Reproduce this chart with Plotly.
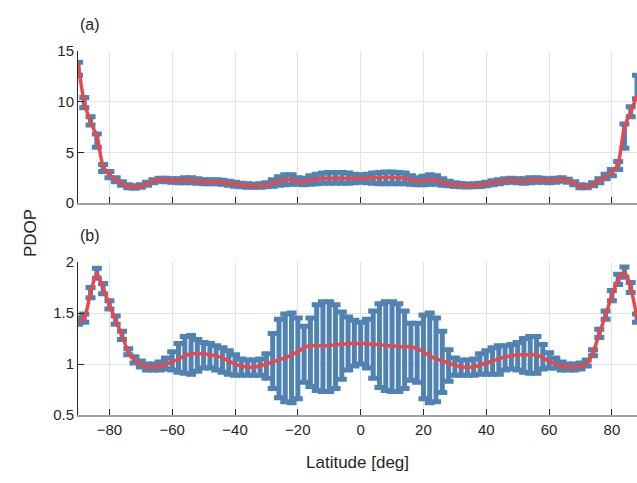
import plotly.graph_objects as go

# Latitude grid (deg)
lat = list(range(-90, 90, 2))

# Panel (a): mean PDOP, upper and lower bounds
a_mean = [13.8, 9.9, 8.0, 6.6, 3.6, 2.8, 2.3, 1.9, 1.65, 1.58,
          1.65, 1.9, 2.15, 2.3, 2.3, 2.22, 2.2, 2.25, 2.25, 2.15,
          2.1, 2.1, 2.1, 2.05, 1.95, 1.85, 1.75, 1.72, 1.7, 1.72,
          1.8, 1.95, 2.15, 2.3, 2.3, 2.15, 2.1, 2.25, 2.35, 2.4,
          2.45, 2.45, 2.45, 2.45, 2.45, 2.45, 2.45, 2.48, 2.5, 2.52,
          2.52, 2.5, 2.45, 2.3, 2.15, 2.2, 2.3, 2.25, 2.05, 1.9,
          1.8, 1.75, 1.72, 1.74, 1.78, 1.88, 2.0, 2.1, 2.2, 2.25,
          2.2, 2.15, 2.25, 2.3, 2.25, 2.2, 2.25, 2.32, 2.2, 1.95,
          1.65, 1.6, 1.85, 2.2, 2.6, 3.0, 3.9, 7.5, 9.0, 10.6]
a_upper = [13.9, 10.4, 8.5, 6.8, 3.8, 3.1, 2.5, 2.1, 1.8, 1.7,
           1.8, 2.05, 2.3, 2.45, 2.45, 2.4, 2.4, 2.5, 2.5, 2.4,
           2.3, 2.3, 2.3, 2.25, 2.15, 2.05, 1.95, 1.9, 1.85, 1.9,
           2.0, 2.3, 2.6, 2.8, 2.8, 2.5, 2.45, 2.7, 2.85, 2.95,
           3.0, 3.0, 3.0, 2.95, 2.85, 2.8, 2.85, 2.95, 3.0, 3.05,
           3.05, 3.0, 2.95, 2.7, 2.5, 2.65, 2.8, 2.7, 2.4, 2.15,
           2.0, 1.92, 1.88, 1.9, 1.95, 2.05, 2.2, 2.3, 2.4, 2.45,
           2.4, 2.4, 2.5, 2.5, 2.45, 2.4, 2.45, 2.5, 2.35, 2.1,
           1.8, 1.75, 2.0, 2.4, 2.85, 3.3, 4.1, 7.8, 9.5, 12.6]
a_lower = [12.6, 9.4, 7.7, 5.5, 3.1, 2.5, 2.1, 1.75, 1.5, 1.45,
           1.55, 1.75, 2.0, 2.15, 2.1, 2.05, 2.0, 2.0, 2.0, 1.95,
           1.9, 1.9, 1.9, 1.85, 1.75, 1.65, 1.6, 1.55, 1.55, 1.55,
           1.6, 1.65, 1.75, 1.8, 1.85, 1.85, 1.8, 1.85, 1.9, 1.95,
           1.95, 1.95, 1.95, 1.95, 2.0, 2.05, 2.0, 1.95, 1.9, 1.9,
           1.9, 1.9, 1.9, 1.85, 1.8, 1.8, 1.85, 1.85, 1.75, 1.7,
           1.62, 1.6, 1.58, 1.6, 1.62, 1.7, 1.8, 1.9, 2.0, 2.05,
           2.0, 1.95, 2.0, 2.05, 2.05, 2.0, 2.05, 2.15, 2.05, 1.8,
           1.5, 1.5, 1.7, 2.0, 2.4, 2.7, 3.3, 5.4, 8.5, 10.3]

# Panel (b): mean PDOP, upper and lower bounds
b_mean = [1.42, 1.45, 1.70, 1.89, 1.74, 1.58, 1.43, 1.28, 1.12, 1.04,
          1.00, 0.97, 0.97, 0.98, 1.00, 1.02, 1.05, 1.08, 1.10, 1.10,
          1.10, 1.09, 1.08, 1.06, 1.03, 1.00, 0.98, 0.97, 0.97, 0.98,
          1.00, 1.02, 1.04, 1.06, 1.09, 1.12, 1.16, 1.18, 1.18, 1.18,
          1.18, 1.19, 1.19, 1.20, 1.20, 1.20, 1.20, 1.19, 1.19, 1.18,
          1.18, 1.17, 1.17, 1.17, 1.15, 1.12, 1.08, 1.05, 1.03, 1.01,
          0.99, 0.97, 0.97, 0.97, 0.99, 1.01, 1.03, 1.05, 1.07, 1.08,
          1.09, 1.09, 1.09, 1.09, 1.06, 1.03, 1.00, 0.98, 0.97, 0.97,
          0.98, 1.01, 1.11, 1.30, 1.48, 1.67, 1.83, 1.90, 1.75, 1.45]
b_upper = [1.45, 1.49, 1.75, 1.94, 1.79, 1.62, 1.47, 1.32, 1.15, 1.07,
           1.03, 1.00, 1.00, 1.02, 1.06, 1.12, 1.20, 1.27, 1.28, 1.24,
           1.21, 1.20, 1.18, 1.16, 1.13, 1.09, 1.05, 1.04, 1.04, 1.05,
           1.10, 1.30, 1.44, 1.49, 1.50, 1.45, 1.37, 1.45, 1.58, 1.61,
           1.61, 1.58, 1.51, 1.46, 1.43, 1.41, 1.44, 1.52, 1.59, 1.61,
           1.61, 1.59, 1.52, 1.40, 1.40, 1.48, 1.50, 1.45, 1.32, 1.14,
           1.06, 1.04, 1.04, 1.05, 1.10, 1.13, 1.16, 1.18, 1.18, 1.19,
           1.21, 1.25, 1.27, 1.27, 1.19, 1.11, 1.06, 1.02, 1.00, 1.00,
           1.01, 1.04, 1.14, 1.34, 1.52, 1.72, 1.88, 1.95, 1.80, 1.49]
b_lower = [1.39, 1.41, 1.65, 1.84, 1.69, 1.54, 1.39, 1.24, 1.09, 1.01,
           0.97, 0.94, 0.94, 0.94, 0.95, 0.94, 0.92, 0.91, 0.90, 0.93,
           0.96, 0.96, 0.94, 0.92, 0.90, 0.89, 0.89, 0.89, 0.89, 0.89,
           0.86, 0.76, 0.67, 0.63, 0.62, 0.66, 0.82, 0.78, 0.74, 0.73,
           0.73, 0.76, 0.85, 0.94, 0.98, 1.00, 0.96, 0.86, 0.77, 0.74,
           0.73, 0.73, 0.76, 0.84, 0.82, 0.66, 0.62, 0.63, 0.72, 0.83,
           0.89, 0.89, 0.89, 0.89, 0.90, 0.90, 0.90, 0.90, 0.94, 0.95,
           0.94, 0.92, 0.91, 0.91, 0.95, 0.96, 0.96, 0.94, 0.94, 0.94,
           0.95, 0.98, 1.08, 1.26, 1.44, 1.62, 1.78, 1.85, 1.70, 1.41]

x_ticks = [-80, -60, -40, -20, 0, 20, 40, 60, 80]

BLUE = "#5083b1"
RED = "#e8474c"
FONT = "Liberation Sans"


def eb(mean, up, lo, xa, ya):
    return go.Scatter(
        x=lat, y=mean, xaxis=xa, yaxis=ya, mode="markers",
        marker=dict(size=1, color="rgba(0,0,0,0)"),
        error_y=dict(type="data", symmetric=False,
                     array=[u - m for u, m in zip(up, mean)],
                     arrayminus=[m - l for m, l in zip(mean, lo)],
                     color=BLUE, thickness=5, width=5),
        showlegend=False, hoverinfo="skip")


def ln(mean, xa, ya):
    return go.Scatter(x=lat, y=mean, xaxis=xa, yaxis=ya, mode="lines",
                      line=dict(color=RED, width=3.5, shape="spline", smoothing=0.6),
                      showlegend=False)


fig = go.Figure([
    eb(a_mean, a_upper, a_lower, "x", "y"), ln(a_mean, "x", "y"),
    eb(b_mean, b_upper, b_lower, "x2", "y2"), ln(b_mean, "x2", "y2"),
])

axis_common = dict(showgrid=True, gridcolor="#e3e3e3", gridwidth=1,
                   zeroline=False, ticks="inside", ticklen=6,
                   tickcolor="#262626", tickfont=dict(family=FONT, size=15, color="#262626"))

fig.update_layout(
    width=637, height=483,
    margin=dict(l=78, r=0, t=51, b=68),
    paper_bgcolor="white", plot_bgcolor="white",
    font=dict(family=FONT, color="#262626"),
    xaxis=dict(domain=[0, 1], range=[-90, 88], anchor="y", tickvals=x_ticks,
               showticklabels=False, showline=True, linecolor="#a0a0a0", linewidth=2,
               **axis_common),
    yaxis=dict(domain=[0.5824, 1], range=[0, 15], anchor="x",
               tickvals=[0, 5, 10, 15], showline=True, linecolor="#262626", linewidth=1,
               **axis_common),
    xaxis2=dict(domain=[0, 1], range=[-90, 88], anchor="y2", tickvals=x_ticks,
                showline=True, linecolor="#a0a0a0", linewidth=2, **axis_common),
    yaxis2=dict(domain=[0, 0.4203], range=[0.5, 2], anchor="x2",
                tickvals=[0.5, 1, 1.5, 2], ticktext=["0.5", "1", "1.5", "2"],
                showline=True, linecolor="#262626", linewidth=1, **axis_common),
    annotations=[
        dict(text="(a)", xref="paper", yref="paper", x=0, y=1, xshift=0, yshift=16,
             xanchor="left", yanchor="bottom", showarrow=False,
             font=dict(family=FONT, size=16, color="#262626")),
        dict(text="(b)", xref="paper", yref="paper", x=0, y=0.4203, yshift=16,
             xanchor="left", yanchor="bottom", showarrow=False,
             font=dict(family=FONT, size=16, color="#262626")),
        dict(text="PDOP", xref="paper", yref="paper", x=0, y=0.5, xshift=-48,
             xanchor="center", yanchor="middle", textangle=-90, showarrow=False,
             font=dict(family=FONT, size=17, color="#262626")),
        dict(text="Latitude [deg]", xref="paper", yref="paper", x=0.5, y=0, yshift=-36,
             xanchor="center", yanchor="top", showarrow=False,
             font=dict(family=FONT, size=17, color="#262626")),
    ],
)

fig.write_html("out.html")
